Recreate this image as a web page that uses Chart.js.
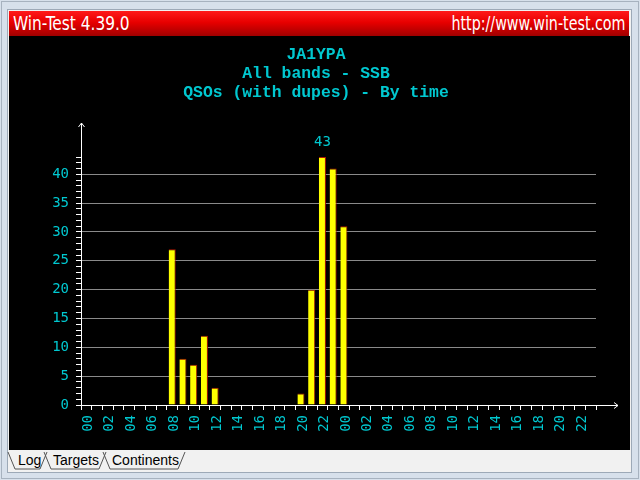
<!DOCTYPE html>
<html>
<head>
<meta charset="utf-8">
<script src="https://cdn.jsdelivr.net/npm/chart.js@4"></script>
<style>
html,body{margin:0;padding:0;width:640px;height:480px;overflow:hidden;background:#d7e0eb;}
#frame{position:absolute;left:1px;top:1px;width:636px;height:476px;border:1px solid #a7b2bf;}
#panel{position:absolute;left:7px;top:9px;width:623px;height:462px;border:1px solid #9da9b7;background:#f1f1f1;}
#bar{position:absolute;left:9px;top:11px;width:620px;height:25px;background:linear-gradient(#ff1a1a,#e80000 45%,#a00000);color:#fff;font:19px "Liberation Sans Narrow","DejaVu Sans Condensed",sans-serif;line-height:25px;}
#bar .l{position:absolute;left:4px;top:0;transform:scaleX(0.9);transform-origin:left center;white-space:nowrap;}
#bar .r{position:absolute;right:4px;top:0;transform:scaleX(0.835);transform-origin:right center;white-space:nowrap;}
#wrap{position:absolute;left:9px;top:36px;width:621px;height:414px;background:#000;}
#tabs{position:absolute;left:0;top:450px;width:260px;height:24px;}
#tabs span{position:absolute;top:2px;font:14px "Liberation Sans",Arial,sans-serif;color:#000;}
</style>
</head>
<body>
<div id="frame"></div>
<div id="panel"></div>
<div id="bar"><span class="l">Win-Test 4.39.0</span><span class="r">http://www.win-test.com</span></div>
<div id="wrap"><canvas id="c" width="621" height="414"></canvas></div>
<div id="tabs">
<svg width="260" height="24" style="position:absolute;left:0;top:0">
<path d="M8,2 L15,19 L40,19 L47,2" fill="none" stroke="#555" stroke-width="1"/>
<path d="M44,2 L51,19 L99,19 L106,2" fill="none" stroke="#555" stroke-width="1"/>
<path d="M103,2 L110,19 L178,19 L185,2" fill="none" stroke="#555" stroke-width="1"/>
</svg>
<span style="left:18px">Log</span>
<span style="left:53px">Targets</span>
<span style="left:112px">Continents</span>
</div>
<script>
const hours = ["00","01","02","03","04","05","06","07","08","09","10","11",
               "12","13","14","15","16","17","18","19","20","21","22","23",
               "00","01","02","03","04","05","06","07","08","09","10","11",
               "12","13","14","15","16","17","18","19","20","21","22","23"];
const qsos  = [0,0,0,0,0,0,0,0,27,8,7,12,
               3,0,0,0,0,0,0,0,2,20,43,41,
               31,0,0,0,0,0,0,0,0,0,0,0,
               0,0,0,0,0,0,0,0,0,0,0,0];
const titleLines = ["JA1YPA","All bands - SSB","QSOs (with dupes) - By time"];
const yMax = 43;
const yLabelStep = 5;

const CYAN = '#00c8d0';

const extras = {
  id: 'extras',
  afterDraw(chart) {
    const ctx = chart.ctx;
    const ca = chart.chartArea;
    const ys = chart.scales.y;
    const x0 = Math.round(ca.left) + 0.5;
    const y0 = Math.round(ys.getPixelForValue(0)) + 0.5;
    ctx.save();
    ctx.strokeStyle = '#ffffff';
    ctx.lineWidth = 1;
    const yTop = 87;
    ctx.beginPath();
    ctx.moveTo(x0, ca.top); ctx.lineTo(x0, yTop);
    ctx.moveTo(x0 - 3, yTop + 4); ctx.lineTo(x0, yTop); ctx.lineTo(x0 + 3, yTop + 4);
    ctx.stroke();
    const xEnd = 609;
    ctx.beginPath();
    ctx.moveTo(ca.right, y0); ctx.lineTo(xEnd, y0);
    ctx.moveTo(xEnd - 4, y0 - 3); ctx.lineTo(xEnd, y0); ctx.lineTo(xEnd - 4, y0 + 3);
    ctx.stroke();
    const meta = chart.getDatasetMeta(0);
    let mi = 0;
    qsos.forEach((v, i) => { if (v > qsos[mi]) mi = i; });
    const el = meta.data[mi];
    ctx.fillStyle = CYAN;
    ctx.font = '14px "DejaVu Sans Mono", monospace';
    ctx.textAlign = 'center';
    ctx.textBaseline = 'middle';
    ctx.fillText(String(qsos[mi]), el.x, el.y - 15);
    ctx.restore();
  }
};

new Chart(document.getElementById('c'), {
  type: 'bar',
  data: {
    labels: hours,
    datasets: [{
      data: qsos,
      backgroundColor: '#ffff00',
      borderColor: '#b01800',
      borderWidth: {top: 1, right: 1, bottom: 0, left: 0},
      barPercentage: 0.66,
      categoryPercentage: 1.0
    }]
  },
  options: {
    responsive: false,
    animation: false,
    devicePixelRatio: 1,
    layout: {padding: {left: 27, right: 34, top: 0, bottom: 0}},
    plugins: {
      legend: {display: false},
      tooltip: {enabled: false},
      title: {
        display: true,
        text: titleLines,
        color: CYAN,
        font: {family: '"Liberation Mono", monospace', size: 16.4, weight: 'bold', lineHeight: 19/16.4},
        padding: {top: 9, bottom: 55}
      }
    },
    scales: {
      x: {
        type: 'category',
        afterFit(s) { s.height = 45; },
        grid: {display: true, offset: true, drawOnChartArea: false, drawTicks: true, tickLength: 5, color: '#ffffff', tickColor: '#ffffff'},
        border: {display: true, color: '#ffffff', width: 1},
        ticks: {
          autoSkip: false, minRotation: 90, maxRotation: 90, padding: 5, labelOffset: 2,
          color: CYAN,
          font: {family: '"DejaVu Sans Mono", monospace', size: 14},
          callback(v, i) { return i % 2 === 0 ? hours[i] : ''; }
        }
      },
      y: {
        type: 'linear',
        min: 0, max: yMax,
        afterFit(s) { s.width = 45; },
        grid: {
          display: true, drawTicks: true, tickLength: 5, tickColor: '#ffffff', lineWidth: 1,
          color(c) { const v = c.tick ? c.tick.value : 0; return (v > 0 && v % yLabelStep === 0) ? '#8a8a8a' : 'rgba(0,0,0,0)'; }
        },
        border: {display: true, color: '#ffffff', width: 1},
        ticks: {
          stepSize: 1, autoSkip: false, maxTicksLimit: 200, padding: 7,
          color: CYAN,
          font: {family: '"DejaVu Sans Mono", monospace', size: 14},
          callback(v) { return v % yLabelStep === 0 ? String(v) : ''; }
        }
      }
    }
  },
  plugins: [extras]
});
</script>
</body>
</html>
